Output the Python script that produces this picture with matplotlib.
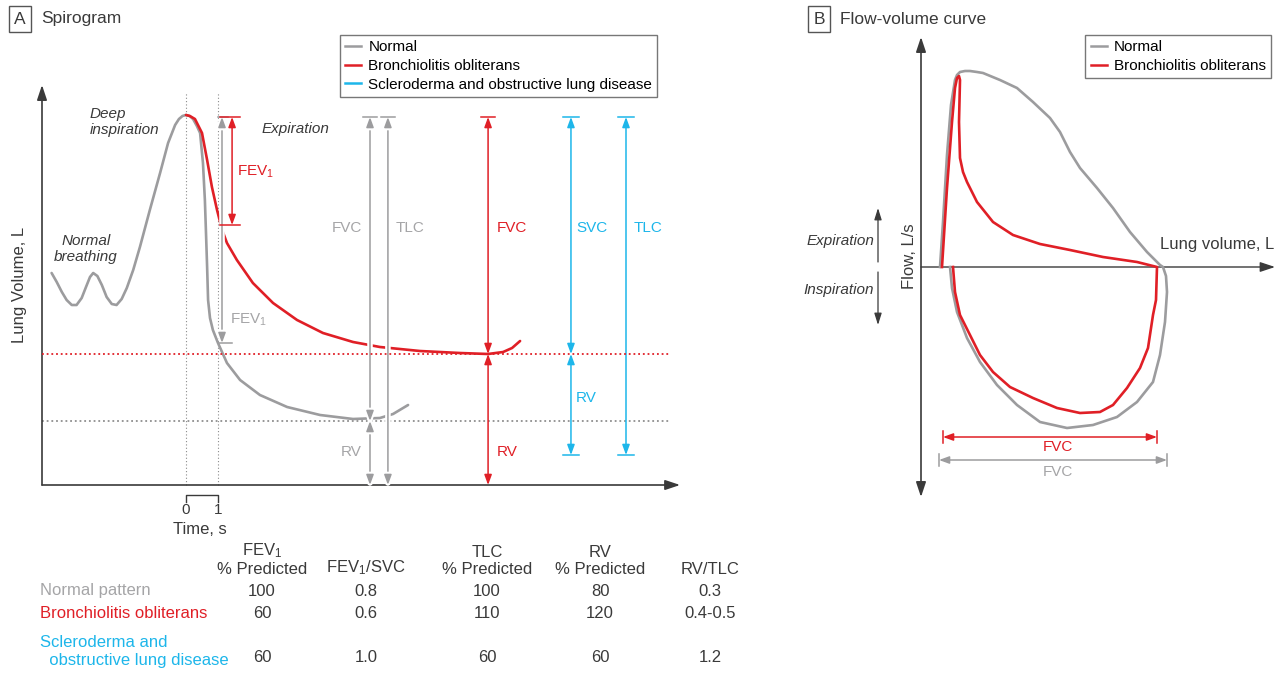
import matplotlib.pyplot as plt
from matplotlib.lines import Line2D
import matplotlib.patheffects as pe

plt.rcParams['font.family'] = ['Liberation Sans', 'DejaVu Sans']
plt.rcParams['mathtext.fontset'] = 'custom'
plt.rcParams['mathtext.rm'] = 'Liberation Sans'
plt.rcParams['mathtext.it'] = 'Liberation Sans:italic'

GRAY = '#9c9c9e'
GRAY_TXT = '#a5a5a7'
RED = '#e01f26'
CYAN = '#1db6ea'
DARK = '#3a3a3a'

# ---- panel A: spirogram (time in s, lung volume in L) ----
normal_t = [-4.20, -4.04, -3.88, -3.73, -3.57, -3.42, -3.26, -3.125, -3.0, -2.90,
            -2.77, -2.63, -2.48, -2.32, -2.17, -2.01, -1.85, -1.65, -1.44, -1.13,
            -0.81, -0.56, -0.34, -0.22, -0.11, 0.0, 0.11, 0.22, 0.34, 0.44,
            0.53, 0.59, 0.625, 0.66, 0.69, 0.75, 0.84, 1.0, 1.28, 1.69,
            2.31, 3.16, 4.19, 5.22, 6.06, 6.47, 6.94]
normal_v = [2.12, 2.03, 1.93, 1.85, 1.80, 1.80, 1.87, 1.98, 2.08, 2.12,
            2.09, 2.00, 1.88, 1.81, 1.80, 1.86, 1.97, 2.15, 2.38, 2.75,
            3.12, 3.42, 3.60, 3.66, 3.69, 3.70, 3.69, 3.66, 3.59, 3.52,
            3.22, 2.85, 2.52, 2.18, 1.85, 1.67, 1.55, 1.42, 1.22, 1.05,
            0.90, 0.78, 0.70, 0.66, 0.67, 0.71, 0.80]
bo_t = [0.0, 0.12, 0.28, 0.5, 0.66, 0.81, 0.97, 1.13, 1.28, 1.59, 2.09, 2.72, 3.47,
        4.28, 5.22, 6.06, 7.31, 8.56, 9.44, 9.91, 10.19, 10.44]
bo_v = [3.70, 3.69, 3.66, 3.52, 3.25, 2.98, 2.75, 2.55, 2.42, 2.25, 2.02, 1.82, 1.65,
        1.52, 1.43, 1.38, 1.34, 1.32, 1.31, 1.33, 1.37, 1.44]

tlc_top = 3.68
rv_normal = 0.64
rv_bo = 1.31
sclero_base = 0.30
fev1_normal_end = 1.42
fev1_bo_end = 2.60

# ---- panel B: flow-volume loops (volume in L, flow in L/s) ----
normal_vol = [0.38, 0.44, 0.52, 0.60, 0.68, 0.72, 0.78, 0.88, 0.98, 1.12, 1.24,
              1.58, 1.92, 2.24, 2.58, 2.78, 2.98, 3.18, 3.52, 3.84, 4.18, 4.52,
              4.78, 4.84,
              4.90, 4.92, 4.88, 4.78, 4.64, 4.32, 3.92, 3.44, 2.92, 2.38,
              1.92, 1.52, 1.18, 0.92, 0.72, 0.62, 0.58]
normal_flow = [0, 1.8, 4.48, 6.48, 7.48, 7.68, 7.8, 7.84, 7.84, 7.8, 7.76,
               7.48, 7.16, 6.6, 5.96, 5.4, 4.6, 3.96, 3.16, 2.36, 1.4, 0.6,
               0.08, 0,
               -0.36, -1.0, -2.2, -3.52, -4.6, -5.4, -6.0, -6.32, -6.44, -6.2,
               -5.52, -4.72, -3.8, -2.84, -1.8, -0.84, 0]
bo_vol = [0.42, 0.52, 0.62, 0.68, 0.72, 0.76, 0.78, 0.76, 0.78, 0.84, 0.92, 1.12,
          1.44, 1.84, 2.38, 2.98, 3.64, 4.32, 4.72,
          4.70, 4.64, 4.54, 4.38, 4.12, 3.84, 3.58, 3.18, 2.72, 2.24,
          1.78, 1.44, 1.18, 0.98, 0.78, 0.68, 0.64]
bo_flow = [0, 3.16, 5.8, 7.16, 7.56, 7.64, 7.48, 5.8, 4.36, 3.8, 3.4, 2.6,
           1.8, 1.28, 0.92, 0.68, 0.4, 0.2, 0,
           -1.32, -1.92, -3.24, -4.04, -4.84, -5.52, -5.8, -5.84, -5.64, -5.24,
           -4.8, -4.2, -3.52, -2.72, -1.92, -1.0, 0]
fvc_normal = [0.36, 4.92]
fvc_bo = [0.44, 4.72]

# ---- table ----
col_labels = ['FEV$_1$\n% Predicted', 'FEV$_1$/SVC', 'TLC\n% Predicted',
              'RV\n% Predicted', 'RV/TLC']
row_labels = ['Normal pattern', 'Bronchiolitis obliterans',
              'Scleroderma and\n  obstructive lung disease']
table_values = [['100', '0.8', '100', '80', '0.3'],
                ['60', '0.6', '110', '120', '0.4-0.5'],
                ['60', '1.0', '60', '60', '1.2']]

W, H = 1288, 673
fig = plt.figure(figsize=(W / 100, H / 100), dpi=100)


def fx(x):
    return x / W


def fy(y):
    return 1 - y / H


def darrow(ax, p0, p1, color, style='<|-|>', halo=False):
    ann = ax.annotate('', xy=p1, xytext=p0,
                      arrowprops=dict(arrowstyle=style + ',head_length=0.6,head_width=0.22',
                                      color=color, lw=1.1, shrinkA=0, shrinkB=0,
                                      mutation_scale=10))
    if halo:
        ann.arrow_patch.set_path_effects([pe.withStroke(linewidth=4, foreground='white')])
    return ann


# ================= panel A =================
axA = fig.add_axes([0, 0, 780 / W, 1])
axA.set_xlim(-5.8125, 18.5625)
axA.set_ylim(-1.88, 4.85)
axA.axis('off')

# axes with arrow tips
axA.annotate('', xy=(-4.5, 4.0), xytext=(-4.5, 0),
             arrowprops=dict(arrowstyle='-|>,head_length=0.9,head_width=0.3', color=DARK,
                             lw=1.2, shrinkA=0, shrinkB=0, mutation_scale=10))
axA.annotate('', xy=(15.44, 0), xytext=(-4.5, 0),
             arrowprops=dict(arrowstyle='-|>,head_length=0.9,head_width=0.3', color=DARK,
                             lw=1.2, shrinkA=0, shrinkB=0, mutation_scale=10))

# dotted guides
for t in [0, 1]:
    axA.plot([t, t], [0, 3.92], color='#8a8a8a', lw=0.8, ls=(0, (1, 2)))

axA.plot(normal_t, normal_v, color=GRAY, lw=1.9, solid_capstyle='round',
         solid_joinstyle='round', zorder=3)
axA.plot(bo_t, bo_v, color=RED, lw=1.9, solid_capstyle='round',
         solid_joinstyle='round', zorder=3)

# gray measurement arrows (white halo cuts the curves)
darrow(axA, (1.125, tlc_top), (1.125, fev1_normal_end), GRAY, halo=True).set_zorder(4)
axA.plot([1.0, 1.44], [fev1_normal_end] * 2, color=GRAY, lw=1.1, zorder=4)
axA.plot([1.0, 1.3], [tlc_top] * 2, color=GRAY, lw=1.1, zorder=4)
darrow(axA, (5.75, tlc_top), (5.75, rv_normal), GRAY, halo=True).set_zorder(4)
darrow(axA, (5.75, rv_normal), (5.75, 0), GRAY, halo=True).set_zorder(4)
axA.plot([5.53, 5.97], [tlc_top] * 2, color=GRAY, lw=1.1, zorder=4)
darrow(axA, (6.31, tlc_top), (6.31, 0), GRAY, halo=True).set_zorder(4)
axA.plot([6.09, 6.53], [tlc_top] * 2, color=GRAY, lw=1.1, zorder=4)

# red arrows
darrow(axA, (1.44, tlc_top), (1.44, fev1_bo_end), RED).set_zorder(5)
axA.plot([1.06, 1.69], [tlc_top] * 2, color=RED, lw=1.1, zorder=5)
axA.plot([1.06, 1.69], [fev1_bo_end] * 2, color=RED, lw=1.1, zorder=5)
darrow(axA, (9.44, tlc_top), (9.44, rv_bo), RED).set_zorder(5)
darrow(axA, (9.44, rv_bo), (9.44, 0), RED).set_zorder(5)
axA.plot([9.22, 9.66], [tlc_top] * 2, color=RED, lw=1.1, zorder=5)

# cyan arrows
darrow(axA, (12.03, tlc_top), (12.03, rv_bo), CYAN).set_zorder(5)
darrow(axA, (12.03, rv_bo), (12.03, sclero_base), CYAN).set_zorder(5)
axA.plot([11.78, 12.28], [tlc_top] * 2, color=CYAN, lw=1.1, zorder=5)
axA.plot([11.78, 12.28], [sclero_base] * 2, color=CYAN, lw=1.1, zorder=5)
darrow(axA, (13.75, tlc_top), (13.75, sclero_base), CYAN).set_zorder(5)
axA.plot([13.5, 14.0], [tlc_top] * 2, color=CYAN, lw=1.1, zorder=5)
axA.plot([13.5, 14.0], [sclero_base] * 2, color=CYAN, lw=1.1, zorder=5)

# residual volume levels
axA.plot([-4.5, 15.13], [rv_bo] * 2, color=RED, lw=1.3, ls=(0, (1, 1.6)), zorder=6)
axA.plot([-4.5, 15.13], [rv_normal] * 2, color='#8f8f8f', lw=1.3, ls=(0, (1, 1.6)), zorder=2)

# labels
lab = dict(fontsize=11, va='center')
axA.text(1.59, 3.13, 'FEV$_1$', color=RED, ha='left', **lab)
axA.text(1.38, 1.65, 'FEV$_1$', color=GRAY_TXT, ha='left', **lab)
axA.text(5.5, 2.57, 'FVC', color=GRAY_TXT, ha='right', **lab)
axA.text(6.56, 2.57, 'TLC', color=GRAY_TXT, ha='left', **lab)
axA.text(5.5, 0.33, 'RV', color=GRAY_TXT, ha='right', **lab)
axA.text(9.72, 2.57, 'FVC', color=RED, ha='left', **lab)
axA.text(9.72, 0.33, 'RV', color=RED, ha='left', **lab)
axA.text(12.19, 2.57, 'SVC', color=CYAN, ha='left', **lab)
axA.text(12.19, 0.87, 'RV', color=CYAN, ha='left', **lab)
axA.text(14.0, 2.57, 'TLC', color=CYAN, ha='left', **lab)

ital = dict(fontsize=11, style='italic', color=DARK, va='center')
axA.text(-3.0, 3.63, 'Deep\ninspiration', ha='left', linespacing=1.1, **ital)
axA.text(-3.13, 2.36, 'Normal\nbreathing', ha='center', linespacing=1.1, **ital)
axA.text(2.375, 3.56, 'Expiration', ha='left', **ital)

axA.text(-5.19, 2.0, 'Lung Volume, L', rotation=90, ha='center', va='center',
         fontsize=12, color=DARK)

# time scale bracket
axA.plot([0, 0, 1, 1], [-0.17, -0.10, -0.10, -0.17], color=DARK, lw=1)
axA.text(0, -0.25, '0', ha='center', va='center', fontsize=11, color=DARK)
axA.text(1, -0.25, '1', ha='center', va='center', fontsize=11, color=DARK)
axA.text(0.44, -0.45, 'Time, s', ha='center', va='center', fontsize=12, color=DARK)

legA = [Line2D([], [], color=GRAY, lw=1.8), Line2D([], [], color=RED, lw=1.8),
        Line2D([], [], color=CYAN, lw=1.8)]
fig.legend(legA, ['Normal', 'Bronchiolitis obliterans',
                  'Scleroderma and obstructive lung disease'],
           loc='upper left', bbox_to_anchor=(fx(340), fy(35)), bbox_transform=fig.transFigure,
           fontsize=11, frameon=True, fancybox=False, edgecolor='#777777',
           framealpha=1, handlelength=1.05, handletextpad=0.45, labelspacing=0.3,
           borderpad=0.35, borderaxespad=0)

# ================= panel B =================
axB = fig.add_axes([800 / W, 0, 488 / W, 1])
axB.set_xlim(-2.42, 7.34)
axB.set_ylim(-16.24, 10.68)
axB.axis('off')

axB.annotate('', xy=(0, 9.2), xytext=(0, -9.2),
             arrowprops=dict(arrowstyle='<|-|>,head_length=0.9,head_width=0.3', color=DARK,
                             lw=1.2, shrinkA=0, shrinkB=0, mutation_scale=10))
axB.annotate('', xy=(7.08, 0), xytext=(0, 0),
             arrowprops=dict(arrowstyle='-|>,head_length=0.9,head_width=0.3', color=DARK,
                             lw=1.0, shrinkA=0, shrinkB=0, mutation_scale=10))

axB.plot(normal_vol, normal_flow, color=GRAY, lw=1.9, solid_joinstyle='round', zorder=3)
axB.plot(bo_vol, bo_flow, color=RED, lw=1.9, solid_joinstyle='round', zorder=4)

darrow(axB, (fvc_bo[0], -6.8), (fvc_bo[1], -6.8), RED)
darrow(axB, (fvc_normal[0], -7.72), (fvc_normal[1], -7.72), GRAY)
for x in fvc_bo:
    axB.plot([x, x], [-6.56, -7.04], color=RED, lw=1.1)
for x in fvc_normal:
    axB.plot([x, x], [-7.48, -7.96], color=GRAY, lw=1.1)
axB.text(2.74, -7.2, 'FVC', color=RED, ha='center', va='center', fontsize=11)
axB.text(2.74, -8.2, 'FVC', color=GRAY_TXT, ha='center', va='center', fontsize=11)

axB.text(4.78, 0.88, 'Lung volume, L', ha='left', va='center', fontsize=12, color=DARK)
axB.text(-0.22, 0.44, 'Flow, L/s', rotation=90, ha='center', va='center',
         fontsize=12, color=DARK)

axB.annotate('', xy=(-0.86, 2.36), xytext=(-0.86, 0.2),
             arrowprops=dict(arrowstyle='-|>,head_length=0.7,head_width=0.22', color=DARK,
                             lw=0.9, shrinkA=0, shrinkB=0, mutation_scale=10))
axB.annotate('', xy=(-0.86, -2.32), xytext=(-0.86, -0.2),
             arrowprops=dict(arrowstyle='-|>,head_length=0.7,head_width=0.22', color=DARK,
                             lw=0.9, shrinkA=0, shrinkB=0, mutation_scale=10))
axB.text(-0.94, 1.04, 'Expiration', ha='right', va='center', fontsize=11,
         style='italic', color=DARK)
axB.text(-0.94, -0.92, 'Inspiration', ha='right', va='center', fontsize=11,
         style='italic', color=DARK)

legB = [Line2D([], [], color=GRAY, lw=1.8), Line2D([], [], color=RED, lw=1.8)]
fig.legend(legB, ['Normal', 'Bronchiolitis obliterans'],
           loc='upper right', bbox_to_anchor=(fx(1271), fy(35)), bbox_transform=fig.transFigure,
           fontsize=11, frameon=True, fancybox=False, edgecolor='#777777',
           framealpha=1, handlelength=1.05, handletextpad=0.45, labelspacing=0.3,
           borderpad=0.35, borderaxespad=0)

# ================= panel titles =================
box = dict(boxstyle='square,pad=0.3', fc='white', ec='#555555', lw=1)
fig.text(fx(20), fy(19), 'A', ha='center', va='center', fontsize=12.5, color=DARK, bbox=box)
fig.text(fx(41), fy(19), 'Spirogram', ha='left', va='center', fontsize=12.5, color=DARK)
fig.text(fx(819), fy(19), 'B', ha='center', va='center', fontsize=12.5, color=DARK, bbox=box)
fig.text(fx(840), fy(19), 'Flow-volume curve', ha='left', va='center', fontsize=12.5,
         color=DARK)

# ================= table =================
col_x = [262, 366, 487, 600, 710]
row_y = [591, 613, 658]
row_colors = [GRAY_TXT, RED, CYAN]
tfs = 12
for cx, name in zip(col_x, col_labels):
    fig.text(fx(cx), fy(577), name, ha='center', va='bottom', fontsize=tfs,
             color=DARK, linespacing=1.2)
for ry, name, c in zip(row_y, row_labels, row_colors):
    if '\n' in name:
        fig.text(fx(40), fy(ry + 10), name, ha='left', va='bottom', fontsize=tfs,
                 color=c, linespacing=1.25)
    else:
        fig.text(fx(40), fy(ry), name, ha='left', va='center', fontsize=tfs, color=c)
for ry, vals in zip(row_y, table_values):
    for cx, v in zip(col_x, vals):
        fig.text(fx(cx), fy(ry), v, ha='center', va='center', fontsize=tfs, color=DARK)

fig.savefig('out.png', dpi=100, facecolor='white')
